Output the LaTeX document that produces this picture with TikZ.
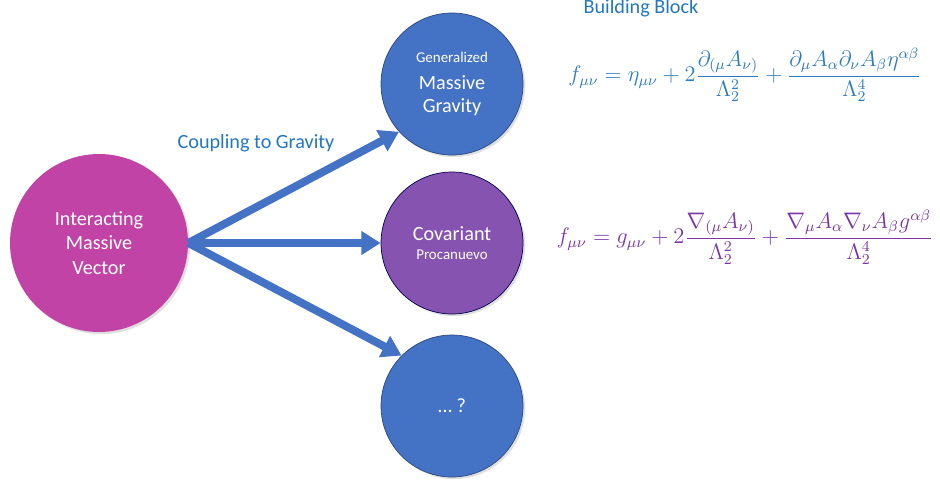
\documentclass[tikz,border=0pt]{standalone}
\usepackage{graphicx}
\usepackage{fontspec}
\setsansfont{Carlito}
\usetikzlibrary{arrows.meta,shadows}

\definecolor{offblue}{HTML}{4472C4}
\definecolor{vecpink}{HTML}{C243A6}
\definecolor{procpurple}{HTML}{8654B0}
\definecolor{labelblue}{HTML}{2277C0}
\definecolor{eqblue}{HTML}{2C7BC0}
\definecolor{eqpurple}{HTML}{7B35A8}

\begin{document}
\begin{tikzpicture}[x=0.02cm, y=-0.02cm,
  every node/.style={align=center, inner sep=0pt},
  bubble/.style={circle, fill=offblue, draw=offblue!65!black, thin,
                 minimum size=2.84cm, text=white,
                 font=\sffamily\fontsize{11.5}{14}\selectfont,
                 drop shadow={opacity=0.25, shadow xshift=1.2pt, shadow yshift=-1.2pt}},
  heading/.style={font=\sffamily\fontsize{11.5}{14}\selectfont, text=labelblue, anchor=base},
  couple/.style={line width=4.5pt, draw=offblue, -{Triangle[length=11pt,width=13pt]}}
]
\useasboundingbox (0,0) rectangle (940,487);
\newcommand\smalltxt{\fontsize{8.5}{10}\selectfont}

% SOURCE
\node[bubble, fill=vecpink, draw=none, minimum size=3.56cm] (vec) at (99,243)
  {Interacting\\ Massive\\ Vector};

% TARGETS
\node[bubble] (gmg) at (452,84)
  {{\smalltxt Generalized}\\[1pt] Massive\\[-1pt] Gravity};
\node[bubble, fill=procpurple, draw=black!70!blue] (cov) at (452,243)
  {Covariant\\[-3pt] {\smalltxt Procanuevo}};
\node[bubble] (etc) at (452,406) {\dots\ ?};

% LABELS
\node[heading] (blk) at (641,13) {Building Block};
\node[heading] (cpl) at (256,148) {Coupling to Gravity};

% EQUATIONS
\node[text=eqblue, font=\fontsize{12}{14}\selectfont] (eq1) at (745,75)
  {\scalebox{1.058}{$\displaystyle f_{\mu\nu} = \eta_{\mu\nu} + 2\frac{\partial_{(\mu}A_{\nu)}}{\Lambda_2^2} + \frac{\partial_\mu A_\alpha \partial_\nu A_\beta \eta^{\alpha\beta}}{\Lambda_2^4}$}};
\node[text=eqpurple, font=\fontsize{12}{14}\selectfont] (eq2) at (745,237)
  {\scalebox{1.067}{$\displaystyle f_{\mu\nu} = g_{\mu\nu} + 2\frac{\nabla_{(\mu}A_{\nu)}}{\Lambda_2^2} + \frac{\nabla_\mu A_\alpha \nabla_\nu A_\beta g^{\alpha\beta}}{\Lambda_2^4}$}};

% ARROWS
\draw[couple] (vec.east) -- (gmg.222);
\draw[couple] (vec.east) -- (cov.west);
\draw[couple] (vec.east) -- (etc.135);
\end{tikzpicture}
\end{document}
